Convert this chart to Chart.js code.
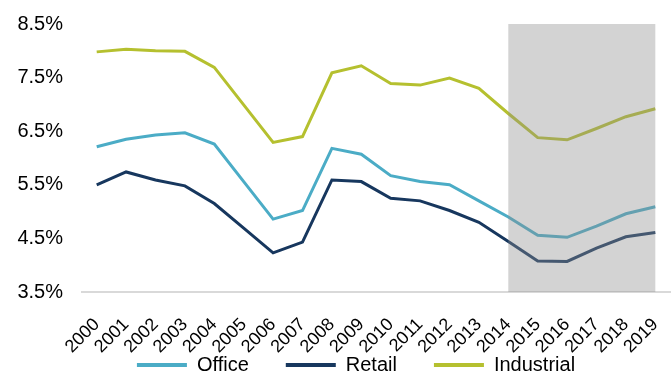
<!DOCTYPE html>
<html>
<head>
<meta charset="utf-8">
<script src="https://cdn.jsdelivr.net/npm/chart.js@4.4.1/dist/chart.umd.min.js"></script>
<style>
html,body{margin:0;padding:0;background:#fff;}
#wrap{width:672px;height:376px;position:relative;}
</style>
</head>
<body>
<div id="wrap"><canvas id="c" width="672" height="376"></canvas></div>
<script>
const years = ['2000','2001','2002','2003','2004','2005','2006','2007','2008','2009','2010','2011','2012','2013','2014','2015','2016','2017','2018','2019'];
const office =     [6.21,6.35,6.43,6.47,6.26,5.56,4.86,5.02,6.18,6.07,5.67,5.56,5.50,5.20,4.90,4.56,4.52,4.73,4.96,5.09];
const retail =     [5.50,5.74,5.59,5.48,5.15,4.69,4.23,4.43,5.59,5.56,5.25,5.20,5.02,4.80,4.44,4.08,4.07,4.32,4.53,4.61];
const industrial = [7.98,8.03,8.00,7.99,7.69,6.99,6.29,6.40,7.59,7.72,7.39,7.36,7.49,7.30,6.83,6.38,6.34,6.55,6.77,6.92];
const seriesNames = ['Office','Retail','Industrial'];
const forecastStart = '2014';
const forecastEnd = '2019';
const yMin = 3.5, yMax = 8.5, yStep = 1;

const colors = ['#4bacc6','#17375e','#b5c02f'];
const FONT = '"Liberation Sans", Arial, sans-serif';

const shadePlugin = {
  id: 'shade',
  afterLayout(chart) {
    if (chart.legend) { chart.legend.left += 21; chart.legend.right += 21; }
    chart.scales.x.bottom = chart.height;
  },
  afterDatasetsDraw(chart) {
    const {ctx, scales:{x, y}} = chart;
    const x0 = x.getPixelForValue(years.indexOf(forecastStart));
    const x1 = x.getPixelForValue(years.indexOf(forecastEnd));
    const y0 = y.getPixelForValue(yMax);
    const y1 = y.getPixelForValue(yMin);
    ctx.save();
    ctx.fillStyle = 'rgba(142,142,142,0.39)';
    ctx.fillRect(x0, y0, x1 - x0, y1 - y0);
    ctx.restore();
  }
};

new Chart(document.getElementById('c'), {
  type: 'line',
  data: {
    labels: years,
    datasets: [office, retail, industrial].map((d, i) => ({
      label: seriesNames[i],
      data: d,
      borderColor: colors[i],
      backgroundColor: colors[i],
      borderWidth: 3,
      pointRadius: 0,
      tension: 0,
      fill: false
    }))
  },
  options: {
    responsive: false,
    animation: false,
    layout: { autoPadding: false, padding: { top: 24, right: 2, left: 0, bottom: -9 } },
    plugins: {
      legend: {
        position: 'bottom',
        labels: {
          font: { family: FONT, size: 20 },
          color: '#000',
          boxWidth: 50,
          boxHeight: 4,
          padding: 37,
          generateLabels(chart) {
            return chart.data.datasets.map((ds, i) => ({
              text: ds.label,
              fillStyle: ds.borderColor,
              strokeStyle: ds.borderColor,
              lineWidth: 0,
              hidden: false,
              datasetIndex: i,
              fontColor: '#000'
            }));
          }
        }
      },
      tooltip: { enabled: false }
    },
    scales: {
      x: {
        offset: true,
        grid: { display: false, drawTicks: false },
        border: { display: true, color: '#d9d9d9', width: 2 },
        afterFit(scale) { scale.height = 26; scale.paddingLeft = 0; scale.paddingRight = 0; },
        ticks: {
          font: { family: FONT, size: 18 },
          color: '#000',
          minRotation: 45,
          maxRotation: 45,
          autoSkip: false,
          padding: 22
        }
      },
      y: {
        min: yMin,
        max: yMax,
        grid: { display: false, drawTicks: false },
        border: { display: false },
        afterFit(scale) { scale.width = 82; scale.paddingTop = 0; scale.paddingBottom = 0; },
        ticks: {
          stepSize: yStep,
          font: { family: FONT, size: 20 },
          color: '#000',
          padding: 19,
          callback: v => v.toFixed(1) + '%'
        }
      }
    }
  },
  plugins: [shadePlugin]
});
</script>
</body>
</html>
